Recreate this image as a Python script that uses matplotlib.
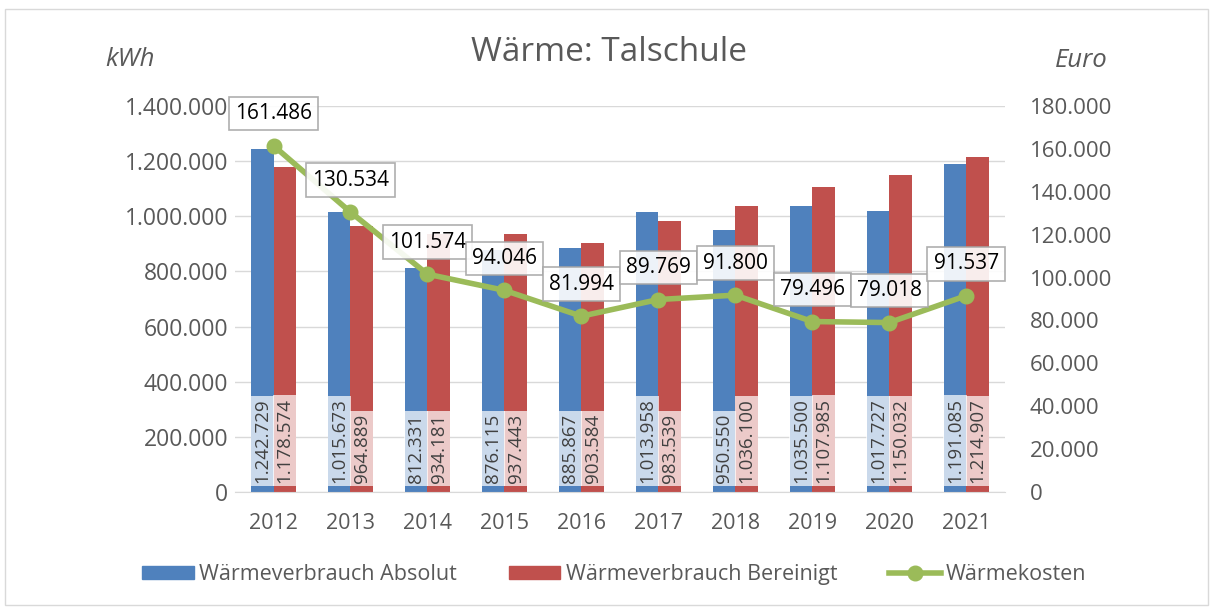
import matplotlib.pyplot as plt
import numpy as np
from matplotlib.patches import Patch, Rectangle
from matplotlib.lines import Line2D
from matplotlib.ticker import FuncFormatter

plt.rcParams['font.family'] = ['Open Sans', 'DejaVu Sans']

years = ['2012', '2013', '2014', '2015', '2016', '2017', '2018', '2019', '2020', '2021']
absolut = [1242729, 1015673, 812331, 876115, 885867, 1013958, 950550, 1035500, 1017727, 1191085]
bereinigt = [1178574, 964889, 934181, 937443, 903584, 983539, 1036100, 1107985, 1150032, 1214907]
kosten = [161486, 130534, 101574, 94046, 81994, 89769, 91800, 79496, 79018, 91537]

blue = '#4F81BD'
red = '#C0504D'
green = '#9BBB59'
txt = '#595959'


def de(v):
    return f'{int(round(v)):,}'.replace(',', '.')


fig = plt.figure(figsize=(12.14, 6.09), dpi=100)
fig.patches.append(Rectangle((0.004, 0.006), 0.991, 0.98, transform=fig.transFigure,
                             fill=False, edgecolor='#D9D9D9', lw=1))

ax = fig.add_axes([0.1936, 0.192, 0.634, 0.634])
x = np.arange(len(years))
w = 0.29
ax.bar(x - w / 2, absolut, w, color=blue, zorder=2)
ax.bar(x + w / 2, bereinigt, w, color=red, zorder=2)

for i in range(len(years)):
    ax.text(x[i] - w / 2, 32000, de(absolut[i]), rotation=90, ha='center', va='bottom',
            fontsize=13.5, color='#404040', zorder=3,
            bbox=dict(boxstyle='square,pad=0.15', fc='white', ec='none', alpha=0.7))
    ax.text(x[i] + w / 2, 32000, de(bereinigt[i]), rotation=90, ha='center', va='bottom',
            fontsize=13.5, color='#404040', zorder=3,
            bbox=dict(boxstyle='square,pad=0.15', fc='white', ec='none', alpha=0.7))

ax.set_xlim(-0.5, 9.5)
ax.set_ylim(0, 1400000)
ax.set_yticks(np.arange(0, 1400001, 200000))
ax.yaxis.set_major_formatter(FuncFormatter(lambda v, p: de(v)))
ax.set_xticks(x)
ax.set_xticklabels(years)
ax.grid(axis='y', color='#D9D9D9', lw=1, zorder=0)
ax.set_axisbelow(True)
for s in ['top', 'right', 'left']:
    ax.spines[s].set_visible(False)
ax.spines['bottom'].set_color('#D9D9D9')
ax.tick_params(axis='y', length=0, labelsize=16.5, colors=txt, pad=5)
ax.tick_params(axis='x', length=0, labelsize=15.5, colors=txt, pad=15)

ax2 = ax.twinx()
ax2.plot(x, kosten, color=green, lw=4, marker='o', ms=10.5, zorder=4)
for i in range(len(years)):
    ax2.annotate(de(kosten[i]), (x[i], kosten[i]), xytext=(0, 23), textcoords='offset points',
                 ha='center', va='center', fontsize=15, color='black', zorder=5,
                 bbox=dict(boxstyle='square,pad=0.3', fc='white', ec='#A6A6A6', lw=1.2,
                           alpha=0.9))
ax2.set_ylim(0, 180000)
ax2.set_yticks(np.arange(0, 180001, 20000))
ax2.yaxis.set_major_formatter(FuncFormatter(lambda v, p: de(v)))
for s in ax2.spines.values():
    s.set_visible(False)
ax2.tick_params(axis='y', length=0, labelsize=16, colors=txt, pad=18)

fig.text(0.502, 0.913, 'Wärme: Talschule', ha='center', va='center', fontsize=24, color=txt)
fig.text(0.107, 0.903, 'kWh', ha='center', va='center', fontsize=18.5, color=txt, style='italic')
fig.text(0.891, 0.900, 'Euro', ha='center', va='center', fontsize=18.5, color=txt, style='italic')

handles = [Patch(color=blue), Patch(color=red),
           Line2D([0], [0], color=green, lw=4, marker='o', ms=10.5)]
labels = ['Wärmeverbrauch Absolut', 'Wärmeverbrauch Bereinigt', 'Wärmekosten']
leg = fig.legend(handles, labels, loc='center', bbox_to_anchor=(0.506, 0.057), ncol=3,
                 frameon=False, fontsize=15.5, handlelength=2.4, handleheight=0.55,
                 columnspacing=2.4, handletextpad=0.25)
for t in leg.get_texts():
    t.set_color(txt)

fig.savefig('out.png', dpi=100)
